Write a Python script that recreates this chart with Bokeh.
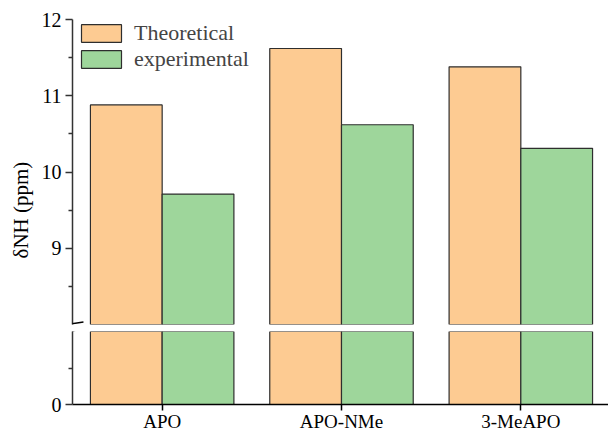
from bokeh.plotting import figure
from bokeh.layouts import column
from bokeh.models import (Range1d, FixedTicker, Legend, LegendItem, Title, Arrow,
                          ColumnDataSource)
from bokeh.transform import dodge
from bokeh.embed import file_html
from bokeh.resources import INLINE

# ---- data ----
categories = ["APO", "APO-NMe", "3-MeAPO"]
theoretical = [10.88, 11.62, 11.38]
experimental = [9.71, 10.62, 10.31]
series_names = ["Theoretical", "experimental"]
upper_ticks = [9, 10, 11, 12]
upper_minor = [8.5, 9.5, 10.5, 11.5]
lower_ticks = [0]
lower_minor = [4]
y_title = "δNH (ppm)"

# ---- style / layout ----
FONT = "Liberation Serif"
ORANGE = "#FDCB92"
GREEN = "#9ED69B"
EDGE = "#2e2e2e"
AXC = "#333333"
W = 608
LEFT = 70
TOP_H, TOP_BT, TOP_BB = 327, 19, 3
BOT_H, BOT_BT, BOT_BB = 107, 4, 28
top_frame = TOP_H - TOP_BT - TOP_BB
bot_frame = BOT_H - BOT_BT - BOT_BB
PX_X = 180.0

x = list(range(len(categories)))
src = ColumnDataSource(dict(x=x, theo=theoretical, exp=experimental))
xr = Range1d(-0.5, -0.5 + (W - LEFT) / PX_X)
upper = Range1d(8, 12)
lower = Range1d(0, 8)
top_scale = top_frame / (upper.end - upper.start)
bot_scale = bot_frame / (lower.end - lower.start)


def style_y(ax, ticks, minor):
    ax.ticker = FixedTicker(ticks=ticks, minor_ticks=minor)
    ax.axis_line_color = AXC
    ax.axis_line_width = 1.5
    ax.major_tick_line_color = AXC
    ax.minor_tick_line_color = AXC
    ax.major_tick_line_width = 1.5
    ax.minor_tick_line_width = 1.5
    ax.major_tick_in = 0
    ax.major_tick_out = 7
    ax.minor_tick_in = 0
    ax.minor_tick_out = 4
    ax.major_label_text_font = FONT
    ax.major_label_text_font_size = "20px"
    ax.major_label_text_color = "black"
    ax.major_label_standoff = 4


def bars(p):
    r1 = p.vbar(x=dodge("x", -0.2, range=xr), top="theo", bottom=0, width=0.4,
                source=src, fill_color=ORANGE, line_color=EDGE, line_width=1.2)
    r2 = p.vbar(x=dodge("x", 0.2, range=xr), top="exp", bottom=0, width=0.4,
                source=src, fill_color=GREEN, line_color=EDGE, line_width=1.2)
    return r1, r2


# ---- upper panel ----
pt = figure(width=W, height=TOP_H, x_range=xr, y_range=upper, x_axis_location=None,
            output_backend="svg", toolbar_location=None,
            min_border_left=LEFT, min_border_right=0,
            min_border_top=TOP_BT, min_border_bottom=TOP_BB)
pt.outline_line_color = None
pt.grid.visible = False
r1, r2 = bars(pt)
style_y(pt.yaxis[0], upper_ticks, upper_minor)

legend = Legend(items=[LegendItem(label=series_names[0], renderers=[r1]),
                       LegendItem(label=series_names[1], renderers=[r2])],
                location=(4, top_frame - 1 - 52), glyph_width=50, glyph_height=22,
                label_height=22, spacing=0, padding=0, margin=0,
                border_line_color=None, background_fill_alpha=0,
                label_text_font=FONT, label_text_font_size="22px", label_standoff=8)
pt.add_layout(legend)

# y title: starts 66 px above the bottom of the upper frame, reading upwards
pt.add_layout(Title(text=y_title, align="left", offset=66, standoff=12,
                    text_font=FONT, text_font_size="21px", text_font_style="normal",
                    text_color="black"), "left")

# break mark (upper stroke) and axis continuation
xa, xb = -0.5 - 12 / PX_X, -0.5 + 11 / PX_X
pt.add_layout(Arrow(x_start=xa, y_start=upper.start - 1 / top_scale,
                    x_end=xb, y_end=upper.start + 2.5 / top_scale,
                    start=None, end=None, line_color="black", line_width=1.5))
pt.add_layout(Arrow(x_start=-0.5, y_start=upper.start, x_end=-0.5,
                    y_end=upper.start - TOP_BB / top_scale,
                    start=None, end=None, line_color=AXC, line_width=1.5))

# ---- lower panel ----
pb = figure(width=W, height=BOT_H, x_range=xr, y_range=lower,
            output_backend="svg", toolbar_location=None,
            min_border_left=LEFT, min_border_right=0,
            min_border_top=BOT_BT, min_border_bottom=BOT_BB)
pb.outline_line_color = None
pb.grid.visible = False
bars(pb)
style_y(pb.yaxis[0], lower_ticks, lower_minor)
xax = pb.xaxis[0]
xax.ticker = FixedTicker(ticks=x, minor_ticks=[])
xax.major_label_overrides = {i: c for i, c in zip(x, categories)}
xax.axis_line_color = "black"
xax.axis_line_width = 1.5
xax.major_tick_line_color = "black"
xax.major_tick_line_width = 1.5
xax.major_tick_in = 0
xax.major_tick_out = 6
xax.major_label_standoff = 0
xax.major_label_text_font = FONT
xax.major_label_text_font_size = "19px"
xax.major_label_text_color = "black"

gap = TOP_BB + BOT_BT  # px between the two frames
pb.add_layout(Arrow(x_start=xa, y_start=lower.end - (9 - gap) / bot_scale,
                    x_end=xb, y_end=lower.end + (gap - 4) / bot_scale,
                    start=None, end=None, line_color="black", line_width=1.5))
pb.add_layout(Arrow(x_start=-0.5, y_start=lower.end, x_end=-0.5,
                    y_end=lower.end + BOT_BT / bot_scale,
                    start=None, end=None, line_color=AXC, line_width=1.5))

layout = column(pt, pb, spacing=0)
open("out.html", "w").write(file_html(layout, INLINE))
